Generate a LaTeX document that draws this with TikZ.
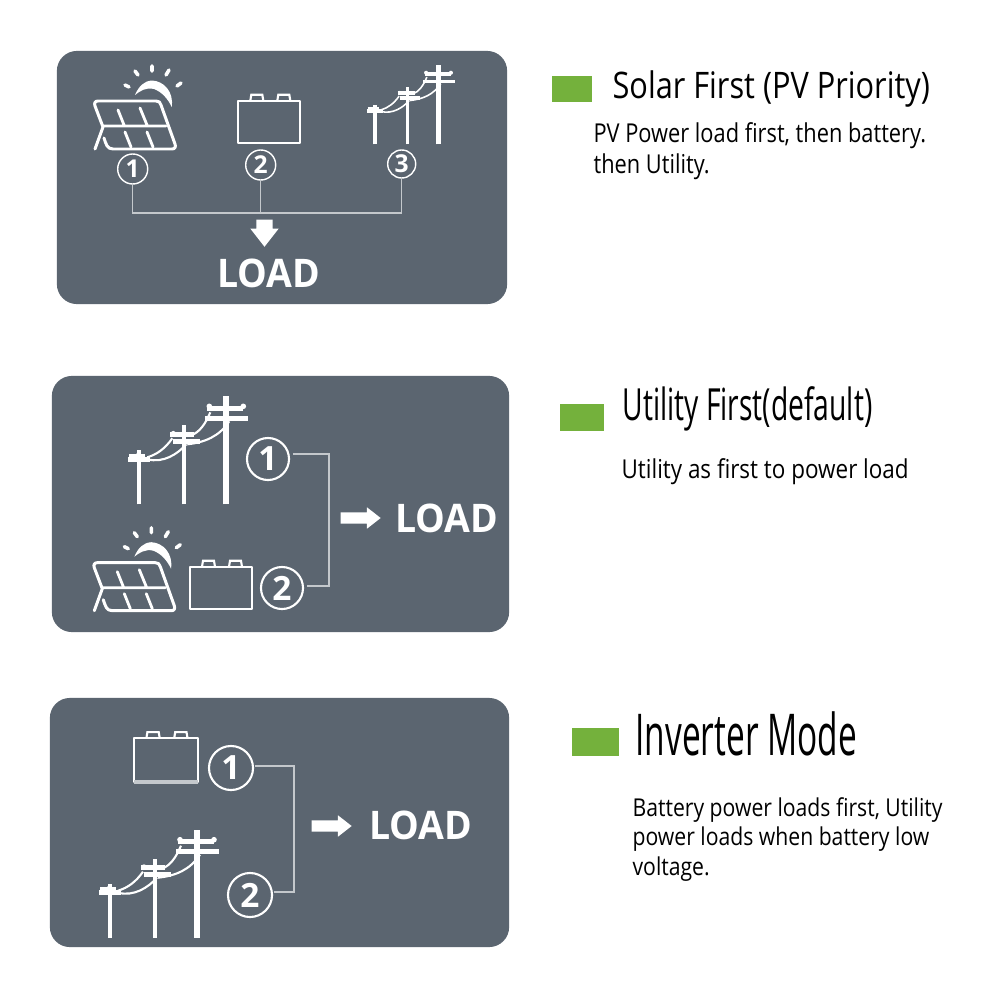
\documentclass[tikz,border=0pt]{standalone}
\usepackage{fontspec}
\setmainfont{Open Sans}
\usetikzlibrary{shapes.arrows}
\definecolor{panelgray}{HTML}{5B6570}
\definecolor{linegray}{HTML}{C4C8CC}
\definecolor{markgreen}{HTML}{74B13C}
\tikzset{
  panel/.style={fill=panelgray,draw=none,rounded corners=2mm,inner sep=0},
  greenbox/.style={fill=markgreen,inner sep=0},
  numring/.style={circle,draw=white,text=white,inner sep=0,font=\bfseries},
  loadtext/.style={text=white,inner sep=0,font=\bfseries\fontsize{11.2}{11.2}\selectfont,xscale=.95,transform shape},
  titletext/.style={anchor=base west,inner sep=0,text=black,transform shape},
  bodytext/.style={anchor=base west,inner sep=0,text=black,align=left,transform shape},
  wire/.style={draw=linegray,line width=.42pt},
  blockarrow/.style={single arrow,fill=white,inner sep=0,single arrow tip angle=76},
  pics/solar/.style={code={
    \draw[white,line width=.85pt,line cap=round,line join=round]
      (10,38) .. controls (12,44) and (13,49) .. (19,49) -- (78,49) .. controls (81,49) and (82,47) .. (81,44)
      -- (67,5) .. controls (66,2) and (65,1) .. (62,1) -- (4,1) .. controls (1,1) and (0,3) .. (1,6) -- (9,27) -- (1,49);
    \draw[white,line width=.8pt,line cap=round] (9,26) -- (72,26)
      (24,10) -- (30,25) (46,8) -- (53,25) (31,32) -- (37,47) (53,32) -- (59,47);
    \fill[white] (41,-5) .. controls (45,-14) and (50,-19) .. (58,-19.5) .. controls (70,-19) and (80,-8) .. (77.7,7)
      .. controls (74,-1) and (68,-8) .. (60,-11) .. controls (52,-13) and (46,-9) .. (41,-5) -- cycle;
    \draw[white,line width=1pt,line cap=round] (31,-15) -- (35,-13) (41,-29) -- (44,-25) (58,-34) -- (58,-29)
      (75,-30) -- (72,-25) (87,-17) -- (83,-14);
  }},
  pics/battery/.style={code={
    \draw[white,line width=.6pt,line join=round] (0,0) rectangle (62,42);
    \draw[white,line width=.6pt] (12,0) -- (13,-6) -- (24,-6) -- (25,0) (39,0) -- (40,-6) -- (51,-6) -- (52,0);
  }},
  pics/poles/.style={code={
    \draw[white,line width=#1*1.15pt] (0,0) -- (0,-54);
    \draw[white,line width=#1*1.15pt] (44.7,0) -- (44.7,-79);
    \draw[white,line width=#1*1.7pt] (87,0) -- (87,-108);
    \draw[white,line width=#1*1.5pt] (-11,-45) -- (11,-45) (-10,-48) -- (6,-48);
    \draw[white,line width=#1*1.5pt] (31,-70) -- (55,-70) (34,-63) -- (61,-63);
    \draw[white,line width=#1*1.5pt] (68,-96) -- (104,-96) (66,-86) -- (109,-86);
    \fill[white] (70,-98) circle (2.8) (104,-98) circle (2.8) (34,-71) circle (2.4) (-1,-50) circle (2);
    \draw[white,line width=#1*.6pt] (8,-47) .. controls (18,-50) and (26,-56) .. (33,-66)
      (8,-45) .. controls (24,-41) and (38,-50) .. (47,-60)
      (52,-69) .. controls (60,-72) and (66,-80) .. (71,-92)
      (48,-60) .. controls (66,-62) and (80,-68) .. (90,-83);
  }}
}
\begin{document}
\begin{tikzpicture}[x=.01cm,y=-.01cm]
  \useasboundingbox (0,0) rectangle (1000,1000);
  \fill[white] (0,0) rectangle (1000,1000);

  \node[panel,minimum width=4.5cm,minimum height=2.53cm] (panelA) at (282,177.5) {};
  \node[panel,minimum width=4.57cm,minimum height=2.56cm] (panelB) at (280.5,504) {};
  \node[panel,minimum width=4.59cm,minimum height=2.49cm] (panelC) at (279.5,822.5) {};

  \pic at (94,100) {solar};
  \pic at (238.3,100.7) {battery};
  \pic[scale=.73] at (375,144.3) {poles=.75};
  \node[numring,minimum size=.3cm,font=\bfseries\fontsize{7}{7}\selectfont] (ringAa) at (132.7,169) {1};
  \node[numring,minimum size=.3cm,font=\bfseries\fontsize{7}{7}\selectfont] (ringAb) at (260.7,165) {2};
  \node[numring,minimum size=.28cm,font=\bfseries\fontsize{7}{7}\selectfont] (ringAc) at (401.7,164) {3};
  \coordinate (busA) at (260.7,213);
  \draw[wire] (ringAa) |- (busA);
  \draw[wire] (ringAc) |- (busA);
  \draw[wire] (ringAb) -- (busA);
  \node[blockarrow,rotate=-90,minimum height=.27cm,inner ysep=.75mm,single arrow head extend=.6mm] (arrowA) at (264.5,228) {};
  \node[loadtext] (loadA) at (269,273) {LOAD};

  \pic at (139.3,504.3) {poles=1};
  \pic at (93.3,561.7) {solar};
  \pic at (190,566.7) {battery};
  \node[numring,minimum size=.42cm,line width=.6pt,font=\bfseries\fontsize{9.5}{9.5}\selectfont] (ringBa) at (268,459) {1};
  \node[numring,minimum size=.42cm,line width=.6pt,font=\bfseries\fontsize{9.5}{9.5}\selectfont] (ringBb) at (282,588) {2};
  \coordinate (busB) at (329,520);
  \draw[wire] (293,454) -| (busB) |- (307,586);
  \node[blockarrow,minimum height=.4cm,inner ysep=.5mm,single arrow head extend=.5mm] (arrowB) at (357,518) {};
  \node[loadtext] (loadB) at (447,518) {LOAD};

  \pic[scale=1.03] at (134,738.3) {battery};
  \fill[linegray] (134,780) rectangle (198,784);
  \pic at (110,937.7) {poles=1};
  \node[numring,minimum size=.44cm,line width=.6pt,font=\bfseries\fontsize{9.5}{9.5}\selectfont] (ringCa) at (231,768) {1};
  \node[numring,minimum size=.44cm,line width=.6pt,font=\bfseries\fontsize{9.5}{9.5}\selectfont] (ringCb) at (250,895) {2};
  \coordinate (busC) at (294,830);
  \draw[wire] (255,766) -| (busC) |- (274,892);
  \node[blockarrow,minimum height=.4cm,inner ysep=.5mm,single arrow head extend=.5mm] (arrowC) at (328,826) {};
  \node[loadtext] (loadC) at (421,825) {LOAD};

  \node[greenbox,minimum width=.4cm,minimum height=.25cm] (markA) at (572,89) {};
  \node[greenbox,minimum width=.44cm,minimum height=.26cm] (markB) at (582,417.5) {};
  \node[greenbox,minimum width=.47cm,minimum height=.28cm] (markC) at (595.5,741.5) {};

  \node[titletext,xscale=.84,font=\fontsize{10.4}{10.4}\selectfont] (titleA) at (612,98) {Solar First (PV Priority)};
  \node[titletext,xscale=.638,font=\fontsize{12.6}{12.6}\selectfont] (titleB) at (622,420) {Utility First(default)};
  \node[titletext,xscale=.58,font=\fontsize{16.4}{16.4}\selectfont] (titleC) at (635,755) {Inverter Mode};
  \node[bodytext,xscale=.838,font=\fontsize{7.4}{8.8}\selectfont] (bodyA) at (593,173) {PV Power load first, then battery.\\then Utility.};
  \node[bodytext,xscale=.863,font=\fontsize{7.4}{8.8}\selectfont] (bodyB) at (621,478) {Utility as first to power load};
  \node[bodytext,xscale=.86,font=\fontsize{7}{8.3}\selectfont] (bodyC) at (632,875) {Battery power loads first, Utility\\power loads when battery low\\voltage.};
\end{tikzpicture}
\end{document}
